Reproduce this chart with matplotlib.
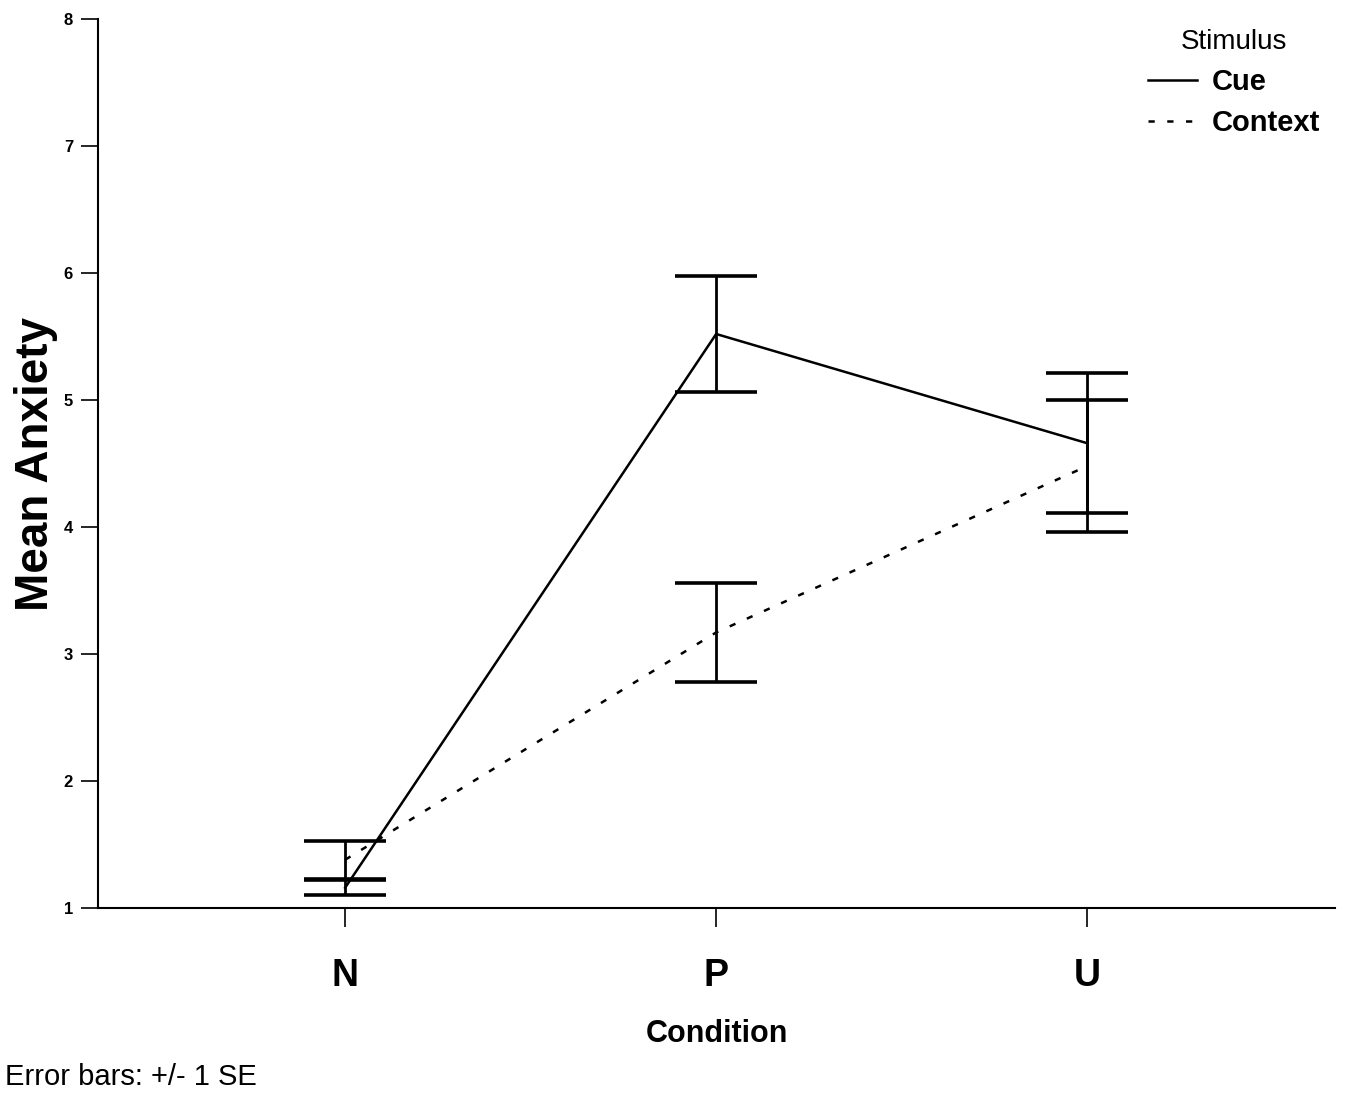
import matplotlib.pyplot as plt
from matplotlib.lines import Line2D

plt.rcParams['font.family'] = ['Liberation Sans', 'DejaVu Sans']

# Data
conditions = ['N', 'P', 'U']
cue_mean = [1.16, 5.52, 4.66]
cue_se = [0.06, 0.46, 0.55]
context_mean = [1.38, 3.17, 4.48]
context_se = [0.15, 0.39, 0.52]

x = range(len(conditions))
dotted = (0, (2.5, 5))

fig = plt.figure(figsize=(13.47, 10.94), dpi=100)
ax = fig.add_axes([0.0728, 0.170, 0.9183, 0.8126])

# Cue (solid)
ax.plot(x, cue_mean, color='black', lw=1.8, linestyle='-')
ax.errorbar(x, cue_mean, yerr=cue_se, fmt='none', ecolor='black',
            elinewidth=2.0, capsize=29.5, capthick=2.6)

# Context (dotted)
ax.plot(x, context_mean, color='black', lw=1.8, linestyle=dotted)
ax.errorbar(x, context_mean, yerr=context_se, fmt='none', ecolor='black',
            elinewidth=2.0, capsize=29.5, capthick=2.6)

ax.set_xlim(-0.666, 2.668)
ax.set_ylim(1, 8)
ax.set_yticks(range(1, 9))
ax.set_xticks(list(x))
ax.set_xticklabels(conditions, fontsize=27, fontweight='bold')
for lab in ax.get_yticklabels():
    lab.set_fontweight('bold')
    lab.set_fontsize(12)

ax.spines['top'].set_visible(False)
ax.spines['right'].set_visible(False)
ax.spines['left'].set_linewidth(1.5)
ax.spines['bottom'].set_linewidth(1.5)
ax.tick_params(axis='y', direction='out', length=12, width=1.2, pad=6)
ax.tick_params(axis='x', direction='out', length=14, width=1.2, pad=22)

ax.set_ylabel('Mean Anxiety', fontsize=33, fontweight='bold', labelpad=4)
ax.set_xlabel('Condition', fontsize=22, fontweight='bold', labelpad=18)

handles = [Line2D([0], [0], color='black', lw=1.8, linestyle='-'),
           Line2D([0], [0], color='black', lw=1.8, linestyle=dotted)]
leg = ax.legend(handles, ['Cue', 'Context'], title='Stimulus', loc='upper right',
                bbox_to_anchor=(1.0, 1.005), frameon=False, fontsize=21,
                title_fontsize=20, handlelength=1.7, handletextpad=0.5,
                labelspacing=0.45, borderaxespad=0.1)
for t in leg.get_texts():
    t.set_fontweight('bold')

fig.text(0.004, 0.008, 'Error bars: +/- 1 SE', fontsize=21)

fig.savefig('out.png', dpi=100)
